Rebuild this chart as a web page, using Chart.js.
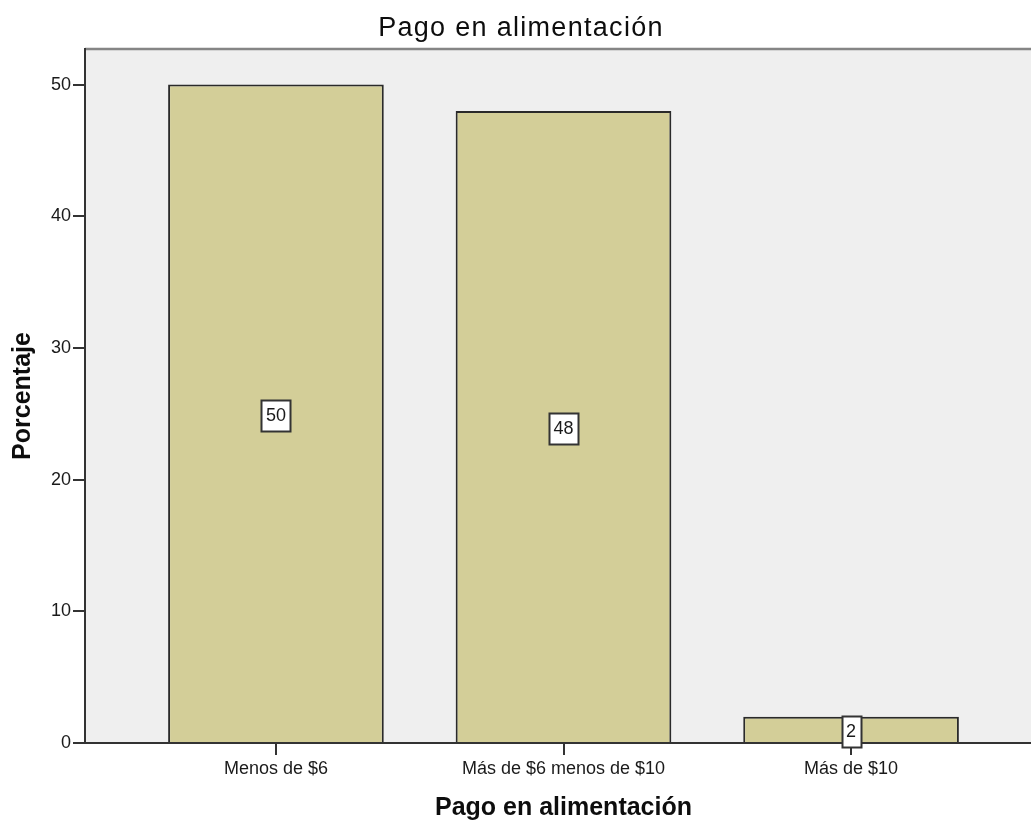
<!DOCTYPE html>
<html>
<head>
<meta charset="utf-8">
<title>Pago en alimentación</title>
<script src="https://cdn.jsdelivr.net/npm/chart.js@4.4.1/dist/chart.umd.min.js"></script>
<style>
  html, body { margin: 0; padding: 0; overflow: hidden; background: #ffffff; }
  #wrap { width: 1042px; height: 821px; }
</style>
</head>
<body>
<div id="wrap"><canvas id="chart" width="1042" height="821"></canvas></div>
<script>
// Chart content
const chartTitle = 'Pago en alimentación';
const categories = ['Menos de $6', 'Más de $6 menos de $10', 'Más de $10'];
const percentages = [50, 48, 2];
const yTicks = [0, 10, 20, 30, 40, 50];
const xAxisTitle = 'Pago en alimentación';
const yAxisTitle = 'Porcentaje';

const FONT = '"Liberation Sans", Arial, Helvetica, sans-serif';
const INK = '#1a1a1a';
const AXIS = '#333333';

// Plot background, frame, titles and value boxes
const panelPlugin = {
  id: 'panel',
  beforeDraw(chart) {
    const { ctx, chartArea: a } = chart;
    ctx.save();
    ctx.fillStyle = '#efefef';
    ctx.fillRect(a.left, a.top, a.right - a.left, a.bottom - a.top);
    ctx.strokeStyle = '#858585';
    ctx.lineWidth = 2.5;
    ctx.beginPath();
    ctx.moveTo(a.left, a.top);
    ctx.lineTo(a.right, a.top);
    ctx.stroke();
    ctx.restore();
  },
  afterDraw(chart) {
    const { ctx, chartArea: a } = chart;
    ctx.save();

    // main title
    ctx.fillStyle = '#0d0d0d';
    ctx.font = '27px ' + FONT;
    ctx.letterSpacing = '1.3px';
    ctx.textAlign = 'center';
    ctx.textBaseline = 'alphabetic';
    ctx.fillText(chartTitle, chart.width / 2, 35.5);
    ctx.letterSpacing = '0px';

    // x axis title
    ctx.font = 'bold 25px ' + FONT;
    ctx.fillText(xAxisTitle, (a.left + a.right) / 2, 815);

    // y axis title
    ctx.save();
    ctx.translate(30, (a.top + a.bottom) / 2);
    ctx.rotate(-Math.PI / 2);
    ctx.fillText(yAxisTitle, 0, 0);
    ctx.restore();

    // value boxes at bar mid-height
    const meta = chart.getDatasetMeta(0);
    const data = chart.data.datasets[0].data;
    ctx.font = '18px ' + FONT;
    ctx.textBaseline = 'middle';
    meta.data.forEach((bar, i) => {
      const text = String(data[i].y);
      const w = Math.round(ctx.measureText(text).width + 9);
      const h = 31;
      const cx = bar.x;
      const cy = (bar.y + bar.base) / 2 + 2;
      const x0 = Math.round(cx - w / 2) + 0.5;
      const y0 = Math.round(cy - h / 2) + 0.5;
      ctx.fillStyle = '#ffffff';
      ctx.fillRect(x0, y0, w, h);
      ctx.strokeStyle = AXIS;
      ctx.lineWidth = 2;
      ctx.strokeRect(x0, y0, w, h);
      ctx.fillStyle = INK;
      ctx.fillText(text, cx, cy + 1);
    });

    ctx.restore();
  }
};

new Chart(document.getElementById('chart'), {
  type: 'bar',
  data: {
    datasets: [{
      label: yAxisTitle,
      data: categories.map((c, i) => ({ x: i, y: percentages[i] })),
      backgroundColor: '#d3ce98',
      borderColor: '#2a2a2a',
      borderWidth: { top: 2, left: 2, right: 2, bottom: 0 },
      borderSkipped: false,
      barPercentage: 0.75,
      categoryPercentage: 1.0
    }]
  },
  options: {
    responsive: false,
    animation: false,
    devicePixelRatio: 1,
    layout: { padding: { top: 49, right: 0, bottom: 0, left: 0 } },
    plugins: {
      legend: { display: false },
      tooltip: { enabled: false },
      title: { display: false }
    },
    scales: {
      x: {
        type: 'linear',
        min: -0.664,
        max: 2.664,
        offset: false,
        afterBuildTicks: s => { s.ticks = categories.map((c, i) => ({ value: i })); },
        afterFit: s => { s.height = 78; },
        grid: {
          offset: false,
          drawOnChartArea: false,
          drawTicks: true,
          tickLength: 12,
          color: AXIS,
          lineWidth: 2
        },
        border: { display: true, color: AXIS, width: 2 },
        ticks: {
          callback: v => categories[v] ?? '',
          font: { size: 18, family: FONT },
          color: INK,
          padding: 3,
          maxRotation: 0,
          autoSkip: false
        }
      },
      y: {
        min: 0,
        max: 52.7,
        afterBuildTicks: s => { s.ticks = yTicks.map(v => ({ value: v })); },
        afterFit: s => { s.width = 85; },
        grid: {
          drawOnChartArea: false,
          drawTicks: true,
          tickLength: 12,
          color: AXIS,
          lineWidth: 2
        },
        border: { display: true, color: AXIS, width: 2 },
        ticks: {
          font: { size: 18, family: FONT },
          color: INK,
          padding: 2
        }
      }
    }
  },
  plugins: [panelPlugin]
});
</script>
</body>
</html>
